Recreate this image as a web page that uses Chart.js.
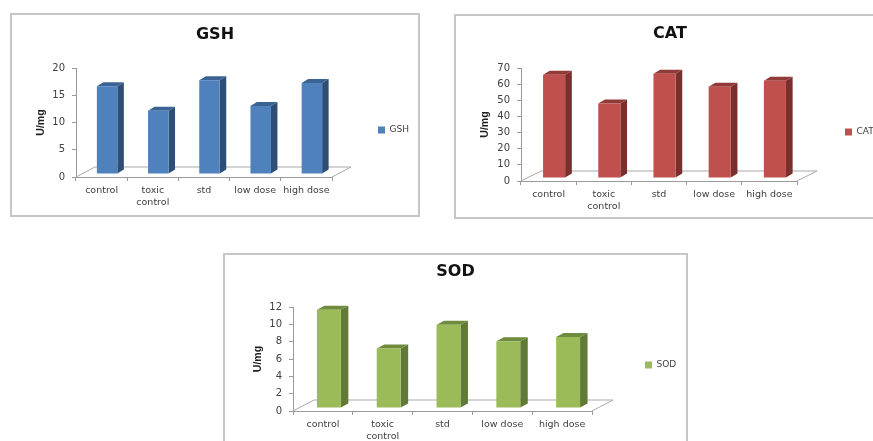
<!DOCTYPE html>
<html>
<head>
<meta charset="utf-8">
<title>GSH, CAT, SOD</title>
<script src="https://cdn.jsdelivr.net/npm/chart.js@4/dist/chart.umd.min.js"></script>
<style>
    html, body { margin: 0; padding: 0; background: #fff; overflow: hidden; width: 873px; height: 441px; }
    canvas { position: absolute; filter: blur(0.6px); }
    #gshChart { left: 10px; top: 13px; }
    #catChart { left: 454px; top: 14px; }
    #sodChart { left: 223px; top: 253px; }
</style>
</head>
<body>
<canvas id="gshChart" width="410" height="204"></canvas>
<canvas id="catChart" width="432" height="205"></canvas>
<canvas id="sodChart" width="465" height="204"></canvas>
<script>
const categories = ['control', ['toxic', 'control'], 'std', 'low dose', 'high dose'];

const gshValues = [16.1, 11.6, 17.2, 12.5, 16.7];
const catValues = [64, 46.2, 64.6, 56.6, 60.3];
const sodValues = [11.35, 6.86, 9.62, 7.7, 8.2];

const FONT = "'DejaVu Sans', sans-serif";
const AXIS_GREY = '#9a9a9a';
const TEXT_GREY = '#404040';

// fake 3D: floor, side and top faces, bars shifted back onto the floor
const bars3d = {
    id: 'bars3d',
    beforeDraw(chart) {
        const ctx = chart.ctx;
        ctx.save();
        ctx.strokeStyle = '#c6c6c6';
        ctx.lineWidth = 2;
        ctx.strokeRect(1, 1, chart.width - 2, chart.height - 2);
        ctx.restore();
    },
    afterLayout(chart) {
        const o = chart.options.plugins.bars3d;
        const legend = chart.legend;
        legend.left = o.legendX - 2;
        legend.right = chart.width;
        legend.top = o.legendY - 20;
        legend.bottom = o.legendY + 20;
        chart.titleBlock.left = 0;
        chart.titleBlock.right = chart.width;
    },
    beforeDatasetsDraw(chart) {
        const o = chart.options.plugins.bars3d;
        const ctx = chart.ctx;
        const { left, right, bottom } = chart.chartArea;

        ctx.save();
        ctx.strokeStyle = '#a8a8a8';
        ctx.lineWidth = 1;
        ctx.beginPath();
        ctx.moveTo(left, bottom);
        ctx.lineTo(left + o.floorX, bottom - o.floorY);
        ctx.lineTo(right + o.floorX, bottom - o.floorY);
        ctx.lineTo(right, bottom);
        ctx.stroke();
        ctx.restore();

        ctx.save();
        ctx.translate(o.shiftX, -o.shiftY);
        chart.getDatasetMeta(0).data.forEach(bar => {
            const { x, y, base, width } = bar.getProps(['x', 'y', 'base', 'width'], true);
            const l = x - width / 2;
            const r = x + width / 2;
            ctx.fillStyle = o.sideColor;
            ctx.beginPath();
            ctx.moveTo(r, y);
            ctx.lineTo(r + o.depthX, y - o.depthY);
            ctx.lineTo(r + o.depthX, base - o.depthY);
            ctx.lineTo(r, base);
            ctx.closePath();
            ctx.fill();
            ctx.fillStyle = o.topColor;
            ctx.beginPath();
            ctx.moveTo(l, y);
            ctx.lineTo(l + o.depthX, y - o.depthY);
            ctx.lineTo(r + o.depthX, y - o.depthY);
            ctx.lineTo(r, y);
            ctx.closePath();
            ctx.fill();
        });
    },
    afterDatasetsDraw(chart) {
        chart.ctx.restore();
    }
};

function makeChart(id, name, values, maxY, stepY, look) {
    return new Chart(document.getElementById(id), {
        type: 'bar',
        data: {
            labels: categories,
            datasets: [{
                label: name,
                data: values,
                backgroundColor: look.frontColor,
                borderWidth: 0,
                categoryPercentage: 1,
                barPercentage: 0.4,
                clip: false
            }]
        },
        plugins: [bars3d],
        options: {
            responsive: false,
            animation: false,
            layout: {
                autoPadding: false,
                padding: { right: document.getElementById(id).width - look.areaRight }
            },
            plugins: {
                title: {
                    display: true,
                    text: name,
                    color: '#111111',
                    font: { family: FONT, size: 16, weight: 'bold', lineHeight: 1.2 },
                    padding: { top: look.titleTop, bottom: look.areaTop - look.titleTop - 19.2 }
                },
                legend: {
                    position: 'chartArea',
                    labels: {
                        boxWidth: 7,
                        boxHeight: 7,
                        padding: 2,
                        color: TEXT_GREY,
                        font: { family: FONT, size: 9 }
                    }
                },
                tooltip: { enabled: false },
                bars3d: look
            },
            scales: {
                x: {
                    afterFit(scale) { scale.height = look.xHeight; },
                    grid: { drawOnChartArea: false, tickLength: 4, color: AXIS_GREY },
                    border: { color: AXIS_GREY },
                    ticks: {
                        autoSkip: false,
                        maxRotation: 0,
                        padding: 4,
                        color: TEXT_GREY,
                        font: { family: FONT, size: 9.5, lineHeight: 1.25 }
                    }
                },
                y: {
                    min: 0,
                    max: maxY,
                    afterFit(scale) { scale.width = look.axisLeft; },
                    grid: { drawOnChartArea: false, tickLength: 4, color: AXIS_GREY },
                    border: { color: AXIS_GREY },
                    ticks: {
                        stepSize: stepY,
                        padding: 7,
                        color: TEXT_GREY,
                        font: { family: FONT, size: 10 }
                    },
                    title: {
                        display: true,
                        text: 'U/mg',
                        color: '#222222',
                        font: { family: "'Liberation Sans Narrow', 'Liberation Sans', sans-serif", size: 10.5, weight: 'bold' },
                        padding: { top: look.unitLeft, bottom: 0 }
                    }
                }
            }
        }
    });
}

makeChart('gshChart', 'GSH', gshValues, 20, 5, {
    frontColor: '#4f81bd', sideColor: '#2e4e76', topColor: '#3a6394',
    axisLeft: 66, areaTop: 55, areaRight: 322, xHeight: 40,
    titleTop: 12.4, unitLeft: 25,
    legendX: 368, legendY: 117,
    floorX: 19, floorY: 10, shiftX: 5.5, shiftY: 3, depthX: 6.5, depthY: 4
});

makeChart('catChart', 'CAT', catValues, 70, 10, {
    frontColor: '#c0504d', sideColor: '#7a2f2d', topColor: '#913a37',
    axisLeft: 67, areaTop: 54, areaRight: 343, xHeight: 38,
    titleTop: 10.4, unitLeft: 25,
    legendX: 391, legendY: 118,
    floorX: 20, floorY: 10, shiftX: 5.5, shiftY: 3, depthX: 6.7, depthY: 4
});

makeChart('sodChart', 'SOD', sodValues, 12, 2, {
    frontColor: '#9bbb59', sideColor: '#617a36', topColor: '#6f8c3e',
    axisLeft: 70, areaTop: 54, areaRight: 369, xHeight: 46,
    titleTop: 9.4, unitLeft: 29,
    legendX: 422, legendY: 112,
    floorX: 21, floorY: 11, shiftX: 6, shiftY: 3, depthX: 7.5, depthY: 4
});
</script>
</body>
</html>
